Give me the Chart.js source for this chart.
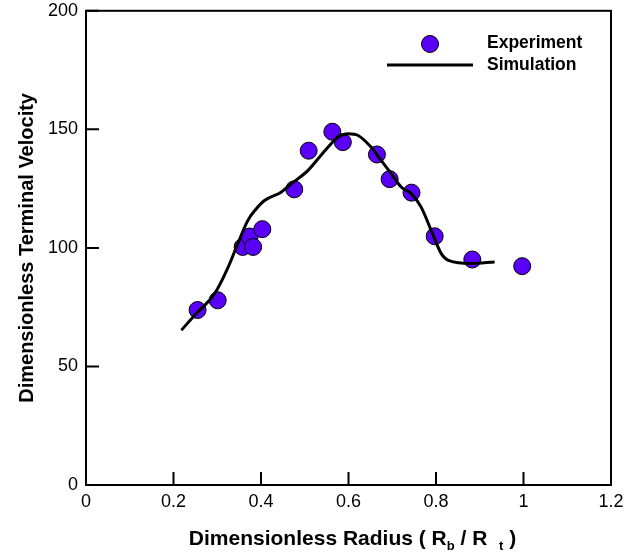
<!DOCTYPE html>
<html lang="en">
<head>
    <meta charset="UTF-8">
    <title>Dimensionless Terminal Velocity</title>
    <style>
        body {
            margin: 0;
            background: #fff;
        }
        #chartContainer {
            width: 638px;
            height: 555px;
        }
    </style>
    <script src="https://cdn.jsdelivr.net/npm/chart.js"></script>
</head>
<body>
    <div id="chartContainer">
        <canvas id="velocityChart"></canvas>
    </div>
    <script>
        // Experiment points (radius ratio, terminal velocity)
        const expRadius = [0.255, 0.301, 0.358, 0.374, 0.382, 0.403, 0.476, 0.509, 0.563, 0.587, 0.665, 0.694, 0.744, 0.797, 0.883, 0.997];
        const expVelocity = [73.8, 77.9, 100.4, 104.8, 100.4, 107.9, 124.7, 141, 149, 144.6, 139.4, 129, 123.3, 104.9, 95.1, 92.3];

        // Simulation curve
        const simRadius = [0.218, 0.252, 0.294, 0.325, 0.347, 0.370, 0.386, 0.408, 0.446, 0.469, 0.507, 0.546, 0.576, 0.599, 0.622, 0.652, 0.675, 0.698, 0.721, 0.744, 0.766, 0.789, 0.812, 0.830, 0.880, 0.934];
        const simVelocity = [65.3, 72.3, 80.7, 91.9, 101.8, 111.6, 115.8, 120, 123.5, 127, 132.6, 141, 146.7, 148.1, 147.4, 142.4, 136.8, 131.2, 125.6, 122.8, 117.2, 107.4, 97.6, 94.6, 93.4, 94.1];

        const FONT = "Arial, 'Liberation Sans', sans-serif";
        const markerColor = '#5a00f6';

        Chart.defaults.color = '#000';
        Chart.defaults.font.family = FONT;

        const toPoints = (xs, ys) => xs.map((x, i) => ({ x: x, y: ys[i] }));

        // frame, inward ticks, legend and the x title with subscripts
        const decorPlugin = {
            id: 'decor',
            afterDraw(chart) {
                const { ctx, chartArea: a, scales: { x, y } } = chart;
                ctx.save();
                ctx.strokeStyle = '#000';
                ctx.lineWidth = 2;
                ctx.strokeRect(a.left, a.top, a.right - a.left, a.bottom - a.top);

                ctx.beginPath();
                x.ticks.forEach(t => {
                    const px = x.getPixelForValue(t.value);
                    ctx.moveTo(px, a.bottom);
                    ctx.lineTo(px, a.bottom - 13);
                });
                y.ticks.forEach(t => {
                    const py = y.getPixelForValue(t.value);
                    ctx.moveTo(a.left, py);
                    ctx.lineTo(a.left + 13, py);
                });
                ctx.stroke();

                // legend
                ctx.beginPath();
                ctx.arc(430, 44, 8.5, 0, Math.PI * 2);
                ctx.fillStyle = markerColor;
                ctx.fill();
                ctx.lineWidth = 1;
                ctx.stroke();

                ctx.beginPath();
                ctx.lineWidth = 3;
                ctx.moveTo(387, 65);
                ctx.lineTo(473, 65);
                ctx.stroke();

                ctx.fillStyle = '#000';
                ctx.font = 'bold 17.5px ' + FONT;
                ctx.textBaseline = 'middle';
                ctx.textAlign = 'left';
                ctx.fillText('Experiment', 487, 43);
                ctx.fillText('Simulation', 487, 65);

                // x axis title: Dimensionless Radius ( Rb / R t )
                const parts = [
                    { t: 'Dimensionless Radius ( R', sub: false },
                    { t: 'b', sub: true },
                    { t: ' / R  ', sub: false },
                    { t: 't', sub: true },
                    { t: ' )', sub: false }
                ];
                const mainFont = 'bold 21px ' + FONT;
                const subFont = 'bold 13px ' + FONT;
                let total = 0;
                parts.forEach(p => {
                    ctx.font = p.sub ? subFont : mainFont;
                    p.w = ctx.measureText(p.t).width;
                    total += p.w;
                });
                let cx = (a.left + a.right) / 2 + 4 - total / 2;
                const baseY = 545;
                ctx.textBaseline = 'alphabetic';
                parts.forEach(p => {
                    ctx.font = p.sub ? subFont : mainFont;
                    ctx.fillText(p.t, cx, p.sub ? baseY + 5 : baseY);
                    cx += p.w;
                });
                ctx.restore();
            }
        };

        const ctx = document.getElementById('velocityChart').getContext('2d');

        const chart = new Chart(ctx, {
            type: 'scatter',
            data: {
                datasets: [
                    {
                        label: 'Simulation',
                        type: 'line',
                        data: toPoints(simRadius, simVelocity),
                        borderColor: '#000',
                        borderWidth: 3,
                        pointRadius: 0,
                        fill: false,
                        cubicInterpolationMode: 'monotone',
                        order: 0
                    },
                    {
                        label: 'Experiment',
                        data: toPoints(expRadius, expVelocity),
                        backgroundColor: markerColor,
                        borderColor: '#000',
                        borderWidth: 1,
                        pointRadius: 8.5,
                        order: 1
                    }
                ]
            },
            options: {
                responsive: true,
                maintainAspectRatio: false,
                animation: false,
                layout: {
                    padding: { top: 10, right: 27, left: 0, bottom: 0 }
                },
                plugins: {
                    legend: { display: false },
                    tooltip: { enabled: false }
                },
                scales: {
                    x: {
                        type: 'linear',
                        min: 0,
                        max: 1.2,
                        ticks: {
                            stepSize: 0.2,
                            padding: -2,
                            font: { size: 18 },
                            callback: v => String(+v.toFixed(1))
                        },
                        grid: { display: false },
                        border: { display: false },
                        afterFit(scale) { scale.height = 70; }
                    },
                    y: {
                        min: 0,
                        max: 200,
                        ticks: { stepSize: 50, padding: 0, font: { size: 18 } },
                        grid: { display: false },
                        border: { display: false },
                        title: {
                            display: true,
                            text: 'Dimensionless Terminal Velocity',
                            font: { size: 20, weight: 'bold' },
                            padding: { top: 15, bottom: 0 }
                        },
                        afterFit(scale) { scale.width = 86; }
                    }
                }
            },
            plugins: [decorPlugin]
        });
    </script>
</body>
</html>
